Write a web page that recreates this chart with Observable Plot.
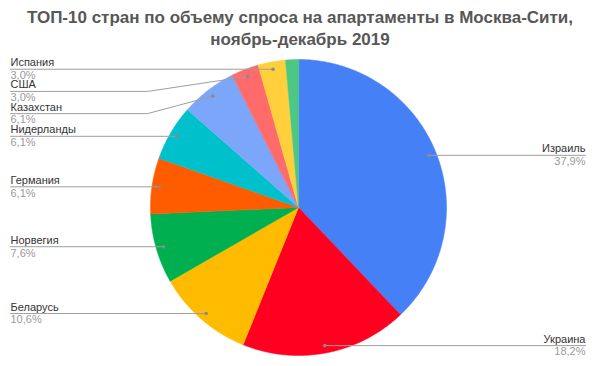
<!DOCTYPE html>
<html>
<head>
<meta charset="utf-8">
<script src="https://cdn.jsdelivr.net/npm/d3@7"></script>
<script src="https://cdn.jsdelivr.net/npm/@observablehq/plot@0.6"></script>
<style>
  html, body { margin: 0; padding: 0; background: #fff; }
  #title { width: 600px; height: 50px; box-sizing: border-box; padding-top: 7px;
    font-family: "Liberation Sans", Arial, sans-serif; font-weight: bold; font-size: 17px;
    line-height: 22px; color: #575757; text-align: center; }
  #chart svg { display: block; }
</style>
</head>
<body>
<div id="title">ТОП-10 стран по объему спроса на апартаменты в Москва-Сити,<br>ноябрь-декабрь 2019</div>
<div id="chart"></div>
<script>
const countries = ["Израиль", "Украина", "Беларусь", "Норвегия", "Германия", "Нидерланды", "Казахстан", "США", "Испания", "Другая страна"];
const shares = [37.9, 18.2, 10.6, 7.6, 6.1, 6.1, 6.1, 3.0, 3.0, 1.4];
const colors = ["#4680F6", "#FF0020", "#FFBB00", "#00B050", "#FF5C00", "#00C0CC", "#7BA6F9", "#FF6A6A", "#FFD03C", "#4CC784"];
const showLabel = [true, true, true, true, true, true, true, true, true, false];

const W = 600, H = 316;
const R = 148, CX = 298, CY = 157;   // layout: pie centre / radius in px
const xDomain = [-CX / R, (W - CX) / R];
const yDomain = [-(H - CY) / R, CY / R];

const arcs = d3.pie().sort(null).value(d => d)(shares);

// slice polygons
const slices = arcs.map((a, i) => {
  const pts = [{x: 0, y: 0}];
  const n = Math.max(4, Math.ceil((a.endAngle - a.startAngle) / 0.01));
  for (let k = 0; k <= n; k++) {
    const t = a.startAngle + (a.endAngle - a.startAngle) * k / n;
    pts.push({x: Math.sin(t), y: Math.cos(t)});
  }
  return {pts, color: colors[i]};
});

// labels
const fmt = v => v.toFixed(1).replace(".", ",") + "%";
const labels = arcs.map((a, i) => {
  const m = (a.startAngle + a.endAngle) / 2;
  const dx = 0.95 * Math.sin(m), dy = 0.95 * Math.cos(m);
  return {name: countries[i], pct: fmt(shares[i]), dx, dy, ly: dy, side: dx >= 0 ? "right" : "left", show: showLabel[i]};
}).filter(d => d.show);

// simple collision avoidance per side (top to bottom)
const gap = 0.15;
for (const side of ["left", "right"]) {
  const s = labels.filter(d => d.side === side).sort((a, b) => b.dy - a.dy);
  for (let k = 1; k < s.length; k++) {
    if (s[k].ly > s[k - 1].ly - gap) s[k].ly = s[k - 1].ly - gap;
  }
}
const leftX = xDomain[0] + 10 / R, rightX = xDomain[1] - 15 / R, kinkX = 1.02;
const leaders = [];
labels.forEach(d => {
  const ex = d.side === "left" ? leftX : rightX;
  leaders.push({id: d.name, x: ex, y: d.ly});
  if (Math.abs(d.ly - d.dy) > 0.01) leaders.push({id: d.name, x: d.side === "left" ? -kinkX : kinkX, y: d.ly});
  leaders.push({id: d.name, x: d.dx, y: d.dy});
  d.tx = ex;
});
const leftLabels = labels.filter(d => d.side === "left");
const rightLabels = labels.filter(d => d.side === "right");

const textMarks = (data, anchor) => [
  Plot.text(data, {x: "tx", y: "ly", text: "name", textAnchor: anchor, lineAnchor: "bottom", dy: -3, fontSize: 11, fill: "#333"}),
  Plot.text(data, {x: "tx", y: "ly", text: "pct", textAnchor: anchor, lineAnchor: "top", dy: 2, fontSize: 11, fill: "#9a9a9a"})
];

const chart = Plot.plot({
  width: W, height: H,
  margin: 0,
  x: {domain: xDomain, range: [0, W], axis: null},
  y: {domain: yDomain, range: [H, 0], axis: null},
  style: {fontFamily: "'Liberation Sans', Arial, sans-serif", background: "#fff"},
  marks: [
    ...slices.map(s => Plot.line(s.pts, {x: "x", y: "y", fill: s.color, stroke: s.color, strokeWidth: 0.5, curve: "linear-closed"})),
    Plot.line(leaders, {x: "x", y: "y", z: "id", stroke: "#9e9e9e", strokeWidth: 1}),
    Plot.dot(labels, {x: "dx", y: "dy", r: 1.8, fill: "#8a8a8a", stroke: null}),
    ...textMarks(leftLabels, "start"),
    ...textMarks(rightLabels, "end")
  ]
});
document.getElementById("chart").appendChild(chart);
</script>
</body>
</html>
